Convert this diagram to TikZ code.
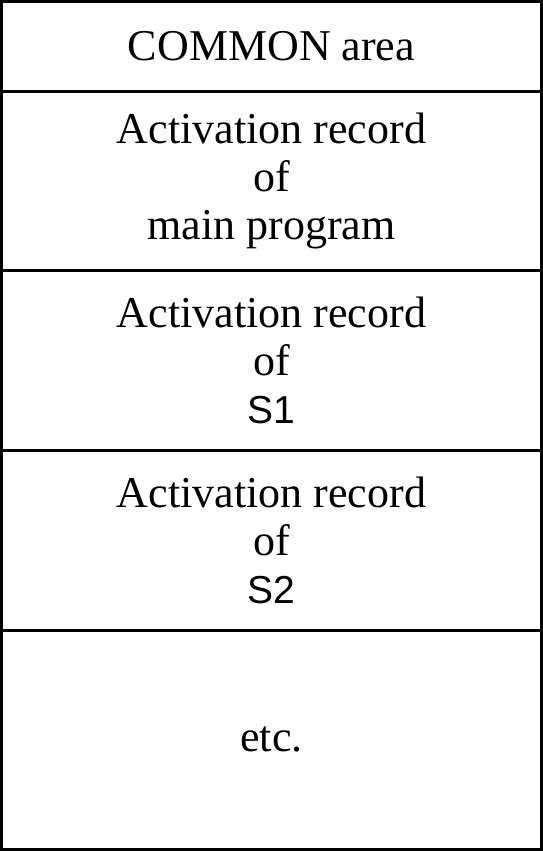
\documentclass[tikz,border=0pt]{standalone}
\usepackage{fontspec}
\setmainfont{Liberation Serif}
\newfontfamily\labelsans{Liberation Sans}
\newcommand\routine[1]{{\labelsans\fontsize{39}{48}\selectfont #1}} % routine name
\tikzset{ rec/.style = { rectangle % stack frame
        , draw
        , line width = 3pt
        , minimum width = 540pt
        , inner sep = 0pt
        , align = center
        , font = \fontsize{44}{48}\selectfont
        }
        }
\begin{document}
\begin{tikzpicture}[x=1pt, y=1pt]
        \useasboundingbox (0,0) rectangle (543,-851);

        \node [rec, minimum height=89.5pt](common) at (271.5,-46.25) {COMMON area};
        \node [rec, minimum height=179pt](main) at (271.5,-180.5) {Activation record\\of\\main program};
        \node [rec, minimum height=180pt](s1) at (271.5,-360) {Activation record\\of\\\routine{S1}};
        \node [rec, minimum height=180pt](s2) at (271.5,-540) {Activation record\\of\\\routine{S2}};
        \node [rec, minimum height=219.5pt](etc) at (271.5,-739.75) {etc.};

\end{tikzpicture}
\end{document}
